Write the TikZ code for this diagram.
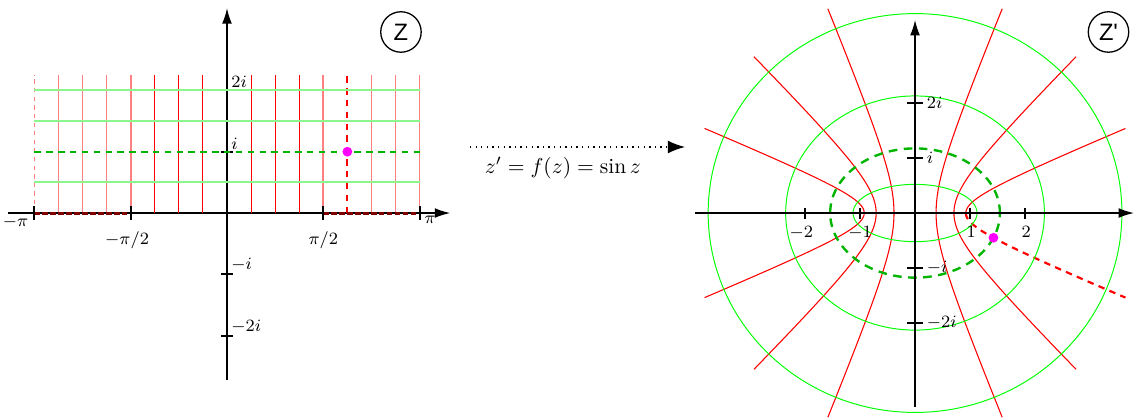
\documentclass[tikz,border=0pt]{standalone}
\usepackage{fontspec}
\setsansfont{Liberation Sans}
\usepackage{tikz}
\usetikzlibrary{arrows.meta,positioning}
\definecolor{zred}{RGB}{255,0,0}
\definecolor{zpink}{RGB}{255,128,128}
\definecolor{zgreen}{RGB}{0,255,0}
\definecolor{zpalegreen}{RGB}{140,245,140}
\definecolor{zdarkgreen}{RGB}{0,180,0}
\definecolor{zdarkred}{RGB}{128,0,0}
\definecolor{zmagenta}{RGB}{255,0,255}
\tikzset{
  >={Latex[length=2.5mm,width=1.6mm]},
  zaxis/.style={->, line width=0.6pt, draw=black},
  axtick/.style={line width=0.9pt, draw=black},
  ticklab/.style={font=\footnotesize, inner sep=1pt},
  redline/.style={draw=zred, line width=0.5pt},
  paleredline/.style={draw=zpink, line width=0.8pt},
  greenline/.style={draw=zgreen, line width=0.45pt},
  palegreenline/.style={draw=zpalegreen, line width=0.9pt},
  greendash/.style={draw=zdarkgreen, dash pattern=on 3pt off 2.5pt, line width=1pt},
  greendashw/.style={draw=zdarkgreen, dash pattern=on 4pt off 3pt, line width=1.1pt},
  reddash/.style={draw=zred, dash pattern=on 3pt off 2.5pt, line width=1pt},
  darkdash/.style={draw=zdarkred, dash pattern=on 2.5pt off 1.2pt, line width=1.4pt},
  planelab/.style={circle, draw, line width=0.6pt, minimum size=6.6mm, inner sep=0pt,
    font=\sffamily\fontsize{11}{13}\selectfont},
  zdot/.style={circle, fill=zmagenta, inner sep=0pt, minimum size=1.6mm},
  maparrow/.style={-{Latex[length=2.8mm,width=2.1mm]}, dotted, line width=0.6pt}
}

\begin{document}
\begin{tikzpicture}[x=1cm,y=1cm]
  \useasboundingbox (-3.703,-3.328) rectangle (14.796,3.475);

  % z plane: axes
  \draw[zaxis] (-3.57,0) -- (3.64,0);
  \draw[zaxis] (0,-2.72) -- (0,3.34);
  \foreach \y in {-2,-1,1,2}
    \draw[axtick] (-0.1,\y) -- (0.1,\y);

  % vertical lines x = k pi/8
  \foreach \k in {-3,-2,-1,1,2,3}
    \draw[redline] ({\k*pi/8},0) -- ({\k*pi/8},2.25);
  \foreach \k in {-7,-6,-5,-4,4,6,7,8}
    \draw[paleredline] ({\k*pi/8},0) -- ({\k*pi/8},2.25);
  \draw[paleredline, dash pattern=on 2pt off 2pt] (-3.1416,0) -- (-3.1416,2.25);
  \draw[reddash] ({5*pi/8},0) -- ({5*pi/8},2.25);

  % horizontal lines y = c
  \foreach \y in {0.5,1.5,2}
    \draw[palegreenline] (-3.1416,\y) -- (3.1416,\y);
  \draw[greendash] (-3.1416,1) -- (3.1416,1);

  % cut on the real axis
  \draw[darkdash] (-3.1416,0) -- (-1.5708,0);
  \draw[darkdash] (1.5708,0) -- (3.1416,0);
  \foreach \x in {-3.1416,-1.5708,1.5708,3.1416}
    \draw[axtick] (\x,-0.11) -- (\x,0.11);

  \node[zdot] (zpt) at ({5*pi/8},1) {};

  % tick labels
  \node[ticklab, below left] (lmpi) at (-3.2,0) {$-\pi$};
  \node[ticklab, below] (lmpih) at (-1.63,-0.26) {$-\pi/2$};
  \node[ticklab, below] (lpih) at (1.57,-0.26) {$\pi/2$};
  \node[ticklab, below right] (lpi) at (3.18,0) {$\pi$};
  \node[ticklab, above right] (l2i) at (0.03,2.0) {$2i$};
  \node[ticklab, above right] (l1i) at (0.03,1.0) {$i$};
  \node[ticklab, above right] (lm1i) at (0.03,-1.0) {$-i$};
  \node[ticklab, above right] (lm2i) at (0.03,-2.01) {$-2i$};

  \node[planelab] (zlab) at (2.838,2.953) {Z};

  % mapping arrow
  \coordinate (mapL) at (3.964,1.077);
  \coordinate (mapR) at (7.471,1.077);
  \draw[maparrow] (mapL) -- (mapR);
  \node (maplab) at (5.48,0.734) {$z' = f(z) = \sin z$};

  % z' plane
  \begin{scope}[shift={(11.224,0)}, scale=0.897]
    % half hyperbolas, one for each line x = k pi/8
    \foreach \k in {1,2,3,6,7}
      \draw[redline, variable=\t, domain=0:2.1, samples=40, smooth]
        plot ({sin(22.5*\k)*cosh(\t)}, {cos(22.5*\k)*sinh(\t)});
    \foreach \k in {1,2,3,5,6,7}
      \draw[redline, variable=\t, domain=0:2.1, samples=40, smooth]
        plot ({-sin(22.5*\k)*cosh(\t)}, {cos(22.5*\k)*sinh(\t)});
    \draw[reddash, variable=\t, domain=0:2.1, samples=40, smooth]
      plot ({sin(112.5)*cosh(\t)}, {cos(112.5)*sinh(\t)});

    % ellipses from y = const
    \draw[greenline] (0,0) ellipse [x radius=1.1276, y radius=0.5211];
    \draw[greenline] (0,0) ellipse [x radius=2.3524, y radius=2.1293];
    \draw[greenline] (0,0) ellipse [x radius=3.7622, y radius=3.6269];
    \draw[greendashw] (0,0) ellipse [x radius=1.5431, y radius=1.1752];

    % axes
    \draw[zaxis] (-4,0) -- (3.98,0);
    \draw[zaxis] (0,-3.53) -- (0,3.51);
    \foreach \x in {-2,-1,1,2}
      \draw[axtick] (\x,-0.1) -- (\x,0.1);
    \foreach \y in {-2,-1,1,2}
      \draw[axtick] (-0.15,\y) -- (0.15,\y);

    \node[ticklab, below] (rm2) at (-2.07,-0.2) {$-2$};
    \node[ticklab, below] (rm1) at (-1.0,-0.2) {$-1$};
    \node[ticklab, below] (r1) at (1.02,-0.2) {$1$};
    \node[ticklab, below] (r2) at (2.02,-0.2) {$2$};
    \node[ticklab, right] (r2i) at (0.17,2) {$2i$};
    \node[ticklab, right] (r1i) at (0.17,1) {$i$};
    \node[ticklab, right] (rm1i) at (0.17,-1) {$-i$};
    \node[ticklab, right] (rm2i) at (0.17,-2) {$-2i$};

    \node[zdot] (wpt) at (1.426,-0.450) {};
  \end{scope}

  \node[planelab] (zplab) at (14.38,2.953) {Z\textquotesingle};
\end{tikzpicture}
\end{document}
